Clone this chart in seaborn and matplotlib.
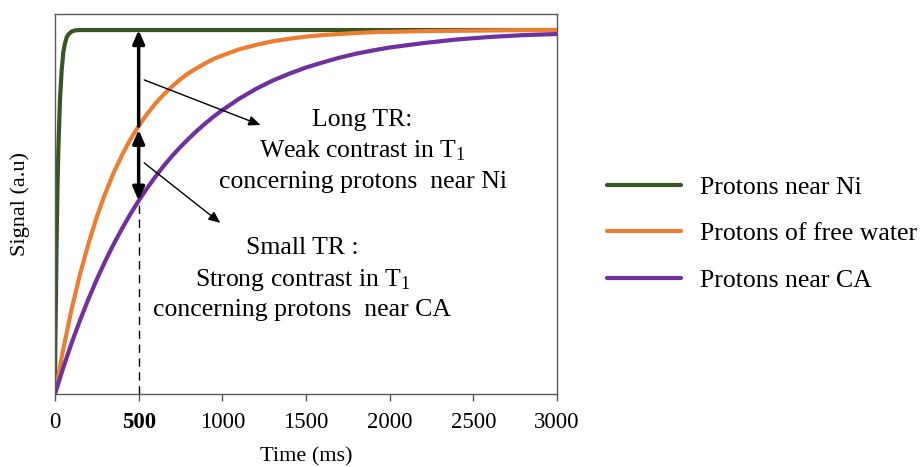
import matplotlib
matplotlib.use('Agg')
import matplotlib.pyplot as plt
import seaborn as sns
import pandas as pd

# values
t_ni = [0, 2, 5, 10, 15, 20, 30, 40, 50, 60, 70, 80, 100, 120, 150, 3000]
s_ni = [0.04, 0.14, 0.24, 0.43, 0.565, 0.67, 0.81, 0.89, 0.94, 0.964, 0.98,
        0.988, 0.996, 0.999, 1.0, 1.0]

t_slow = [0, 50, 100, 150, 200, 250, 300, 350, 400, 450, 500, 550, 600, 650,
          700, 750, 800, 850, 900, 950, 1000, 1100, 1200, 1300, 1400, 1500,
          1600, 1700, 1800, 1900, 2000, 2200, 2400, 2600, 2800, 3000]
s_water = [0, 0.125, 0.234, 0.330, 0.413, 0.487, 0.551, 0.607, 0.656, 0.699,
           0.736, 0.769, 0.798, 0.823, 0.845, 0.865, 0.882, 0.896, 0.909,
           0.921, 0.930, 0.947, 0.959, 0.969, 0.976, 0.982, 0.986, 0.989,
           0.992, 0.994, 0.995, 0.997, 0.998, 0.999, 1.0, 1.0]
s_ca = [0, 0.073, 0.141, 0.203, 0.261, 0.315, 0.365, 0.411, 0.454, 0.494,
        0.531, 0.565, 0.597, 0.627, 0.654, 0.679, 0.702, 0.724, 0.744, 0.763,
        0.780, 0.811, 0.838, 0.861, 0.880, 0.897, 0.911, 0.924, 0.935, 0.944,
        0.952, 0.964, 0.974, 0.981, 0.986, 0.989]

labels = ['Protons near Ni', 'Protons of free water', 'Protons near CA']
colors = ['#375623', '#ED7D31', '#7030A0']
x_ticks = [0, 500, 1000, 1500, 2000, 2500, 3000]
TR = 500

sns.set_style('white')
plt.rcParams['font.family'] = ['Liberation Serif', 'DejaVu Serif']
plt.rcParams['mathtext.fontset'] = 'custom'
plt.rcParams['mathtext.rm'] = 'Liberation Serif'
plt.rcParams['mathtext.it'] = 'Liberation Serif:italic'
plt.rcParams['text.color'] = 'black'
plt.rcParams['axes.labelcolor'] = 'black'
plt.rcParams['xtick.labelcolor'] = 'black'

fig = plt.figure(figsize=(9.21, 4.67), dpi=100)
ax = fig.add_axes([0.0597, 0.1563, 0.5451, 0.8137])

series = [(t_ni, s_ni), (t_slow, s_water), (t_slow, s_ca)]
for (t, s), lab, col in zip(series, labels, colors):
    df = pd.DataFrame({'t': t, 's': s})
    sns.lineplot(data=df, x='t', y='s', color=col, lw=3, label=lab, ax=ax,
                 sort=False)

ax.set_xlim(0, 3000)
ax.set_ylim(0, 1.044)
ax.set_yticks([])
ax.set_xticks(x_ticks)
ax.set_xticklabels([str(v) for v in x_ticks], fontsize=16.5)
for lbl in ax.get_xticklabels():
    if lbl.get_text() == '500':
        lbl.set_fontweight('bold')
ax.tick_params(axis='x', direction='out', length=5, color='#595959',
               labelcolor='black', width=1, pad=8, bottom=True)
for sp in ax.spines.values():
    sp.set_color('#595959')
    sp.set_linewidth(1)

ax.set_xlabel('Time (ms)', fontsize=16, labelpad=10)
ax.set_ylabel('Signal (a.u)', fontsize=16, labelpad=18)

# values at TR = 500 ms
w500 = s_water[t_slow.index(TR)]
c500 = s_ca[t_slow.index(TR)]

ax.vlines(TR, 0, c500, colors='black', linestyles=(0, (6, 4)), lw=1)
ax.annotate('', xy=(TR, 1.0), xytext=(TR, w500),
            arrowprops=dict(arrowstyle='-|>,head_length=0.8,head_width=0.35',
                            color='black', lw=2.5, shrinkA=0, shrinkB=0))
ax.annotate('', xy=(TR, c500), xytext=(TR, w500 - 0.01),
            arrowprops=dict(arrowstyle='<|-|>,head_length=0.8,head_width=0.35',
                            color='black', lw=2.5, shrinkA=0, shrinkB=0))

ax.annotate('', xy=(1228, 0.739), xytext=(533, 0.863),
            arrowprops=dict(arrowstyle='-|>,head_length=0.7,head_width=0.3',
                            color='black', lw=1, shrinkA=0, shrinkB=0))
ax.annotate('', xy=(988, 0.470), xytext=(533, 0.635),
            arrowprops=dict(arrowstyle='-|>,head_length=0.7,head_width=0.3',
                            color='black', lw=1, shrinkA=0, shrinkB=0))

txt = dict(ha='center', va='center', fontsize=18.5, color='black')
ax.text(1838, (394 - 120) / 364, 'Long TR:', **txt)
ax.text(1838, (394 - 151) / 364, r'Weak contrast in T$_{\mathrm{1}}$', **txt)
ax.text(1838, (394 - 182) / 364, 'concerning protons  near Ni', **txt)
ax.text(1479, (394 - 248) / 364, 'Small TR :', **txt)
ax.text(1479, (394 - 280) / 364, r'Strong contrast in T$_{\mathrm{1}}$', **txt)
ax.text(1479, (394 - 310) / 364, 'concerning protons  near CA', **txt)

leg = ax.legend(loc='center left', bbox_to_anchor=(0.659, 0.499),
                bbox_transform=fig.transFigure, frameon=False, fontsize=18.5,
                handlelength=2.88, handletextpad=0.74, labelspacing=0.9,
                borderpad=0, borderaxespad=0)
for t in leg.get_texts():
    t.set_color('black')

fig.savefig('out.png', dpi=100)
